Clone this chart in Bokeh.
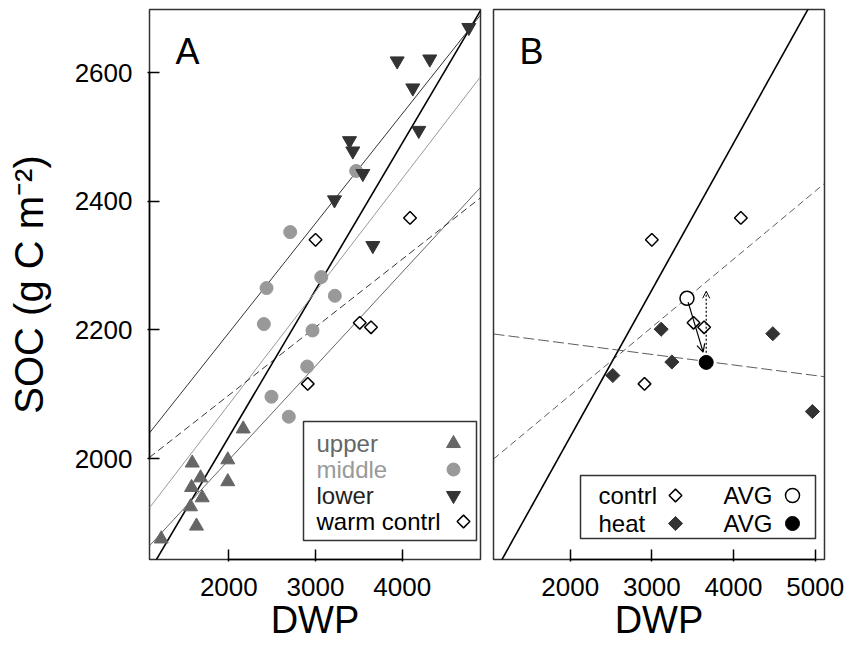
import numpy as np
from bokeh.plotting import figure
from bokeh.layouts import row
from bokeh.models import Range1d, Arrow, OpenHead, FixedTicker
from bokeh.core.properties import value
from bokeh.embed import file_html
from bokeh.resources import INLINE

FONT = "Liberation Sans"

# ---------------- data ----------------
upper_x = [2166, 1578, 1988, 1674, 1570, 1693, 1988, 1558, 1627, 1220]
upper_y = [2046, 1993, 1998, 1970, 1955, 1939, 1964, 1925, 1895, 1875]

middle_x = [3469, 2708, 2435, 3066, 3223, 2404, 2965, 2904, 2492, 2692]
middle_y = [2447, 2352, 2265, 2282, 2253, 2209, 2199, 2143, 2096, 2065]

lower_x = [4768, 3942, 4318, 4122, 4191, 3392, 3430, 3546, 3219, 3661]
lower_y = [2670, 2618, 2621, 2576, 2510, 2494, 2478, 2443, 2402, 2331]

contrl_x = [3000, 2910, 3510, 3640, 4090]
contrl_y = [2340, 2116, 2211, 2204, 2374]

heat_x = [3114, 4481, 3245, 2522, 4966]
heat_y = [2201, 2194, 2150, 2129, 2073]

# regression lines: (intercept, slope)
fit_all = (1577, 0.2283)
fit_upper = (1706, 0.1459)
fit_middle = (1733, 0.1755)
fit_lower = (1855, 0.1702)
fit_contrl = (1887, 0.1057)
fit_heat = (2211, -0.0164)

dotted_arrow_top = 2260

legend_a_labels = ["upper", "middle", "lower", "warm contrl"]
legend_b_labels = ["contrl", "heat"]
avg_label = "AVG"

x_ticks_a = [2000, 3000, 4000]
x_ticks_b = [2000, 3000, 4000, 5000]
y_ticks = [2000, 2200, 2400, 2600]

XR_A = (1085, 4903)
XR_B = (1061, 5114)
YR = (1843, 2698)

FW, FH = 331, 550

C_UP, C_MID, C_LOW = "#666666", "#999999", "#333333"


def make_fig(xr, width, left, right):
    p = figure(width=width, height=648, x_range=Range1d(*xr), y_range=Range1d(*YR),
               output_backend="svg", toolbar_location=None,
               min_border_left=left, min_border_right=right,
               min_border_top=9, min_border_bottom=89)
    p.grid.visible = False
    p.outline_line_color = "#333333"
    p.outline_line_width = 1.5
    p.background_fill_color = "white"
    p.border_fill_color = "white"
    return p


def style_axis(ax, ticks, bounds):
    ax.ticker = FixedTicker(ticks=ticks)
    ax.bounds = bounds
    ax.major_tick_in = 10
    ax.major_tick_out = 2
    ax.minor_tick_in = 0
    ax.minor_tick_out = 0
    ax.axis_line_color = "black"
    ax.axis_line_width = 1.5
    ax.major_tick_line_color = "black"
    ax.major_tick_line_width = 1.5
    ax.major_label_text_font = FONT
    ax.major_label_text_font_size = "26px"
    ax.major_label_text_color = "black"
    ax.axis_label_text_font = FONT
    ax.axis_label_text_font_size = "38px"
    ax.axis_label_text_font_style = "normal"
    ax.axis_label_text_color = "black"


def pos(xr, px, py):
    """frame pixel offset -> data coordinates"""
    return (xr[0] + px / FW * (xr[1] - xr[0]), YR[1] - py / FH * (YR[1] - YR[0]))


def fit_line(p, xr, fit, **kw):
    xs = np.array(xr, dtype=float)
    p.line(xs, fit[0] + fit[1] * xs, **kw)


# ---------------- panel A ----------------
pa = make_fig(XR_A, 486, 149, 6)
style_axis(pa.xaxis[0], x_ticks_a, (2000, 4000))
style_axis(pa.yaxis[0], y_ticks, (2000, 2600))
pa.xaxis[0].axis_label = "DWP"
pa.yaxis[0].axis_label = "SOC (g C m\u207b\u00b2)"
pa.yaxis[0].axis_label_text_font_size = "40px"
pa.xaxis[0].major_label_standoff = 16
pa.xaxis[0].axis_label_standoff = 0
pa.yaxis[0].major_label_standoff = 15
pa.yaxis[0].axis_label_standoff = 21

fit_line(pa, XR_A, fit_lower, line_color="#333333", line_width=1)
fit_line(pa, XR_A, fit_all, line_color="black", line_width=1.6)
fit_line(pa, XR_A, fit_middle, line_color="#999999", line_width=1)
fit_line(pa, XR_A, fit_upper, line_color="#666666", line_width=1)
fit_line(pa, XR_A, fit_contrl, line_color="black", line_width=0.8, line_dash="7 4")

pa.scatter(upper_x, upper_y, marker="triangle", size=14, fill_color=C_UP, line_color=C_UP)
pa.scatter(middle_x, middle_y, marker="circle", size=13, fill_color=C_MID, line_color=C_MID)
pa.scatter(lower_x, lower_y, marker="inverted_triangle", size=14, fill_color=C_LOW, line_color=C_LOW)
pa.scatter(contrl_x, contrl_y, marker="square", angle=np.pi / 4, size=9,
           fill_color="white", line_color="black", line_width=1.5)

# panel label
ax_, ay_ = pos(XR_A, 26, 42)
pa.text([ax_], [ay_], text=["A"], text_font=value(FONT), text_font_size="36px",
        text_baseline="middle", text_align="left", text_color="black")

# legend A (text left, symbol right)
l0, t0 = pos(XR_A, 154, 412)
r0, b0 = pos(XR_A, 327, 531)
pa.quad(left=[l0], right=[r0], top=[t0], bottom=[b0], fill_color="white",
        line_color="#333333", line_width=1.5)
rows_py = [434, 460, 486, 512]
tx = [pos(XR_A, 167, py)[0] for py in rows_py]
ty = [pos(XR_A, 167, py)[1] for py in rows_py]
pa.text(tx, ty, text=legend_a_labels, text_font=value(FONT), text_font_size="24px",
        text_baseline="middle", text_align="left",
        text_color=[C_UP, C_MID, "#222222", "black"])
mx = pos(XR_A, 304, 0)[0]
pa.scatter([mx], [ty[0]], marker="triangle", size=14, fill_color=C_UP, line_color=C_UP)
pa.scatter([mx], [ty[1]], marker="circle", size=13, fill_color=C_MID, line_color=C_MID)
pa.scatter([mx], [ty[2]], marker="inverted_triangle", size=14, fill_color=C_LOW, line_color=C_LOW)
pa.scatter([pos(XR_A, 314, 0)[0]], [ty[3]], marker="square", angle=np.pi / 4, size=9,
           fill_color="white", line_color="black", line_width=1.5)

# ---------------- panel B ----------------
pb = make_fig(XR_B, 362, 7, 24)
style_axis(pb.xaxis[0], x_ticks_b, (2000, 5000))
pb.xaxis[0].axis_label = "DWP"
pb.xaxis[0].major_label_standoff = 16
pb.xaxis[0].axis_label_standoff = 0
pb.yaxis.visible = False

fit_line(pb, XR_B, fit_all, line_color="black", line_width=1.6)
fit_line(pb, XR_B, fit_contrl, line_color="#333333", line_width=0.8, line_dash="7 4")
fit_line(pb, XR_B, fit_heat, line_color="#333333", line_width=0.8, line_dash="11 4")

pb.scatter(contrl_x, contrl_y, marker="square", angle=np.pi / 4, size=9,
           fill_color="white", line_color="black", line_width=1.5)
pb.scatter(heat_x, heat_y, marker="square", angle=np.pi / 4, size=10,
           fill_color="#333333", line_color="#333333")

cax, cay = float(np.mean(contrl_x)), float(np.mean(contrl_y))
hax, hay = float(np.mean(heat_x)), float(np.mean(heat_y))
pb.scatter([cax], [cay], marker="circle", size=14, fill_color="white", line_color="black", line_width=1.5)
pb.scatter([hax], [hay], marker="circle", size=14, fill_color="black", line_color="black")

f0, f1 = 0.06, 0.84
pb.add_layout(Arrow(end=OpenHead(size=8, line_width=1.2),
                    x_start=cax + f0 * (hax - cax), y_start=cay + f0 * (hay - cay),
                    x_end=cax + f1 * (hax - cax), y_end=cay + f1 * (hay - cay),
                    line_width=1.2, line_color="black"))
pb.add_layout(Arrow(end=OpenHead(size=7, line_width=1),
                    x_start=hax, y_start=hay + 15, x_end=hax, y_end=dotted_arrow_top,
                    line_width=1.2, line_color="black", line_dash="2 2"))

bx_, by_ = pos(XR_B, 26, 42)
pb.text([bx_], [by_], text=["B"], text_font=value(FONT), text_font_size="36px",
        text_baseline="middle", text_align="left", text_color="black")

# legend B
l1, t1 = pos(XR_B, 87, 466)
r1, b1 = pos(XR_B, 322, 529)
pb.quad(left=[l1], right=[r1], top=[t1], bottom=[b1], fill_color="white",
        line_color="#333333", line_width=1.5)
rb = [486, 514]
yb = [pos(XR_B, 0, py)[1] for py in rb]
pb.text([pos(XR_B, 105, 0)[0]] * 2, yb, text=legend_b_labels, text_font=value(FONT),
        text_font_size="24px", text_baseline="middle", text_align="left", text_color="black")
pb.text([pos(XR_B, 230, 0)[0]] * 2, yb, text=[avg_label, avg_label], text_font=value(FONT),
        text_font_size="24px", text_baseline="middle", text_align="left", text_color="black")
dxb = pos(XR_B, 182, 0)[0]
pb.scatter([dxb], [yb[0]], marker="square", angle=np.pi / 4, size=9,
           fill_color="white", line_color="black", line_width=1.5)
pb.scatter([dxb], [yb[1]], marker="square", angle=np.pi / 4, size=10,
           fill_color="#333333", line_color="#333333")
cxb = pos(XR_B, 299, 0)[0]
pb.scatter([cxb], [yb[0]], marker="circle", size=14, fill_color="white", line_color="black", line_width=1.5)
pb.scatter([cxb], [yb[1]], marker="circle", size=14, fill_color="black", line_color="black")

layout = row(pa, pb)
open("out.html", "w").write(file_html(layout, INLINE))
